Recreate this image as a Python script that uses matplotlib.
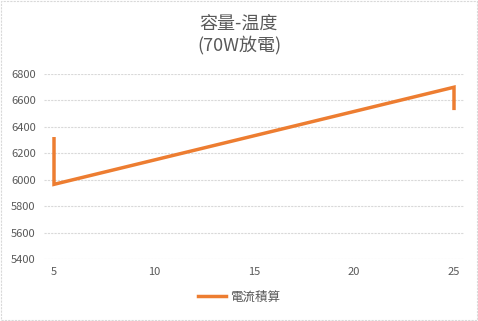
import matplotlib.pyplot as plt
from matplotlib.patches import Rectangle

plt.rcParams['font.family'] = ['Noto Sans CJK TC', 'DejaVu Sans']

# 電流積算 series (temperature, capacity)
temp = [5, 5, 25, 25]
capacity = [6310, 5965, 6700, 6540]
yticks = [5400, 5600, 5800, 6000, 6200, 6400, 6600, 6800]
xticks = [5, 10, 15, 20, 25]

fig = plt.figure(figsize=(4.78, 3.21), dpi=100)
ax = fig.add_axes([44 / 478, (321 - 259) / 321, 420 / 478, 185 / 321])

ax.plot(temp, capacity, color='#ED7D31', linewidth=2.5, label='電流積算', solid_joinstyle='miter')

ax.set_xlim(4.5, 25.5)
ax.set_ylim(5400, 6800)
ax.set_xticks(xticks)
ax.set_yticks(yticks)
ax.grid(axis='y', color='#D9D9D9', linewidth=0.8, linestyle=(0, (2, 1)))
ax.set_axisbelow(True)
for s in ax.spines.values():
    s.set_visible(False)
ax.tick_params(length=0, labelsize=8, labelcolor='#595959', pad=6)

fig.text(0.5, 1 - 24 / 321, '容量-温度', ha='center', va='center', fontsize=13, color='#595959')
fig.text(0.5, 1 - 45 / 321, '(70W放電)', ha='center', va='center', fontsize=13, color='#595959')

leg = fig.legend(loc='center', bbox_to_anchor=(0.5, 1 - 297 / 321), frameon=False,
                 fontsize=9, handlelength=2.2, handletextpad=0.3)
for t in leg.get_texts():
    t.set_color('#595959')

fig.patches.append(Rectangle((0.002, 0.003), 0.995, 0.994, transform=fig.transFigure,
                             fill=False, edgecolor='#D9D9D9', linewidth=0.8, linestyle=(0, (2, 1))))

fig.savefig('out.png', dpi=100)
